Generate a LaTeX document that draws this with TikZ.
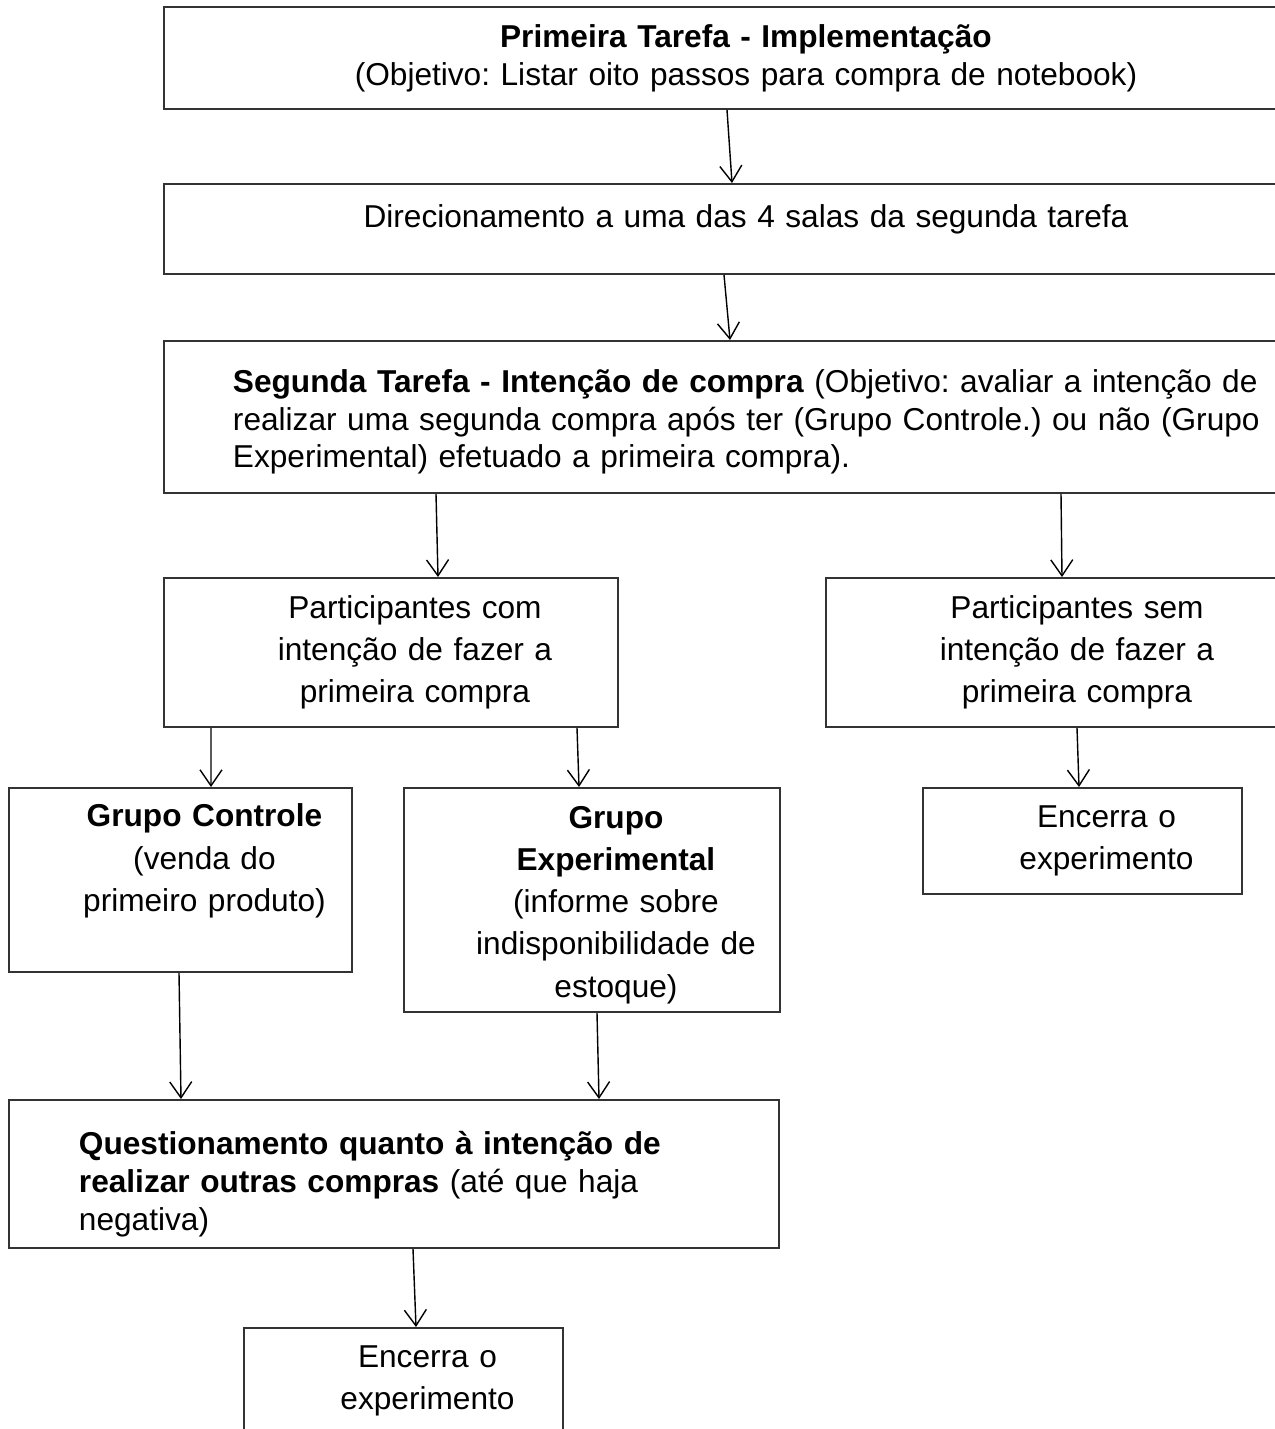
\documentclass[tikz,border=0pt]{standalone}
\usepackage{fontspec}
\setmainfont{Liberation Sans}
\usepackage{tikz}
\usetikzlibrary{arrows.meta, positioning}

\frenchspacing
\newcommand{\folga}[1]{\par\vspace{#1}\hrule height 0pt}

\tikzstyle{caixa} = [rectangle, draw = black!80, line width = 1.1pt, anchor = north west,
inner xsep = 0.2cm, inner ysep = 0pt, font = \fontsize{18pt}{24pt}\selectfont]
\tikzstyle{centro} = [caixa, execute at begin node = {\centering\leftskip = 0.96cm plus 1fil\relax}]
\tikzstyle{esquerda} = [caixa, align = left, inner xsep = 1.38cm, font = \fontsize{18pt}{21.5pt}\selectfont]
\tikzstyle{seta} = [line width = 0.8pt, -{Straight Barb[length = 0.32cm, width = 0.44cm]}]

\begin{document}
\begin{tikzpicture}

    \path[use as bounding box, clip] (0,0) rectangle (25.5,-28.58);

    \node (tarefa1) [centro, minimum width = 22.32cm, minimum height = 2.04cm, text width = 21.92cm, font = \fontsize{18pt}{21.5pt}\selectfont] at (3.26,-0.12) {\textbf{Primeira Tarefa - Implementação}\\ (Objetivo: Listar oito passos para compra de notebook)};
    \node (salas) [centro, minimum width = 22.32cm, minimum height = 1.8cm, text width = 21.92cm] at (3.26,-3.66) {Direcionamento a uma das 4 salas da segunda tarefa\folga{0.4cm}};
    \node (tarefa2) [esquerda, minimum width = 22.32cm, minimum height = 3.04cm, text width = 21.5cm] at (3.26,-6.80) {\textbf{Segunda Tarefa - Intenção de compra} (Objetivo: avaliar a intenção de\\ realizar uma segunda compra após ter (Grupo Controle.) ou não (Grupo\\ Experimental) efetuado a primeira compra).\folga{-0.2cm}};

    \node (com) [centro, minimum width = 9.08cm, minimum height = 2.98cm, text width = 8.68cm] at (3.26,-11.54) {Participantes com\\ intenção de fazer a\\ primeira compra};
    \node (sem) [centro, minimum width = 9.08cm, minimum height = 2.98cm, text width = 8.68cm] at (16.5,-11.54) {Participantes sem\\ intenção de fazer a\\ primeira compra};

    \node (controle) [centro, minimum width = 6.86cm, minimum height = 3.68cm, text width = 6.46cm] at (0.16,-15.74) {\textbf{Grupo Controle}\\ (venda do\\ primeiro produto)\folga{0.76cm}};
    \node (experimental) [centro, minimum width = 7.52cm, minimum height = 4.48cm, text width = 7.12cm] at (8.06,-15.74) {\textbf{Grupo}\\ \textbf{Experimental}\\ (informe sobre\\ indisponibilidade de\\ estoque)\folga{-0.2cm}};
    \node (fim1) [centro, minimum width = 6.38cm, minimum height = 2.12cm, text width = 5.98cm] at (18.44,-15.74) {Encerra o\\ experimento};

    \node (questiona) [esquerda, inner xsep = 1.4cm, minimum width = 15.4cm, minimum height = 2.96cm, text width = 12.6cm] at (0.16,-21.98) {\textbf{Questionamento quanto à intenção de}\\ \textbf{realizar outras compras} (até que haja\\ negativa)\folga{-0.4cm}};
    \node (fim2) [centro, minimum width = 6.38cm, minimum height = 2.12cm, text width = 5.98cm] at (4.86,-26.54) {Encerra o\\ experimento};

    \draw[seta] ([xshift = 11.28cm] tarefa1.south west) -- ([xshift = 11.38cm] salas.north west);
    \draw[seta] ([xshift = 11.22cm] salas.south west) -- ([xshift = 11.34cm] tarefa2.north west);
    \draw[seta] ([xshift = 5.46cm] tarefa2.south west) -- ([xshift = 5.50cm] com.north west);
    \draw[seta] ([xshift = 17.96cm] tarefa2.south west) -- ([xshift = 4.74cm] sem.north west);
    \draw[seta] ([xshift = 0.96cm] com.south west) -- ([xshift = 4.06cm] controle.north west);
    \draw[seta] ([xshift = 8.28cm] com.south west) -- ([xshift = 3.52cm] experimental.north west);
    \draw[seta] ([xshift = 5.04cm] sem.south west) -- ([xshift = 3.14cm] fim1.north west);
    \draw[seta] ([xshift = 3.42cm] controle.south west) -- ([xshift = 3.46cm] questiona.north west);
    \draw[seta] ([xshift = 3.88cm] experimental.south west) -- ([xshift = 11.82cm] questiona.north west);
    \draw[seta] ([xshift = 8.10cm] questiona.south west) -- ([xshift = 3.46cm] fim2.north west);

\end{tikzpicture}
\end{document}
